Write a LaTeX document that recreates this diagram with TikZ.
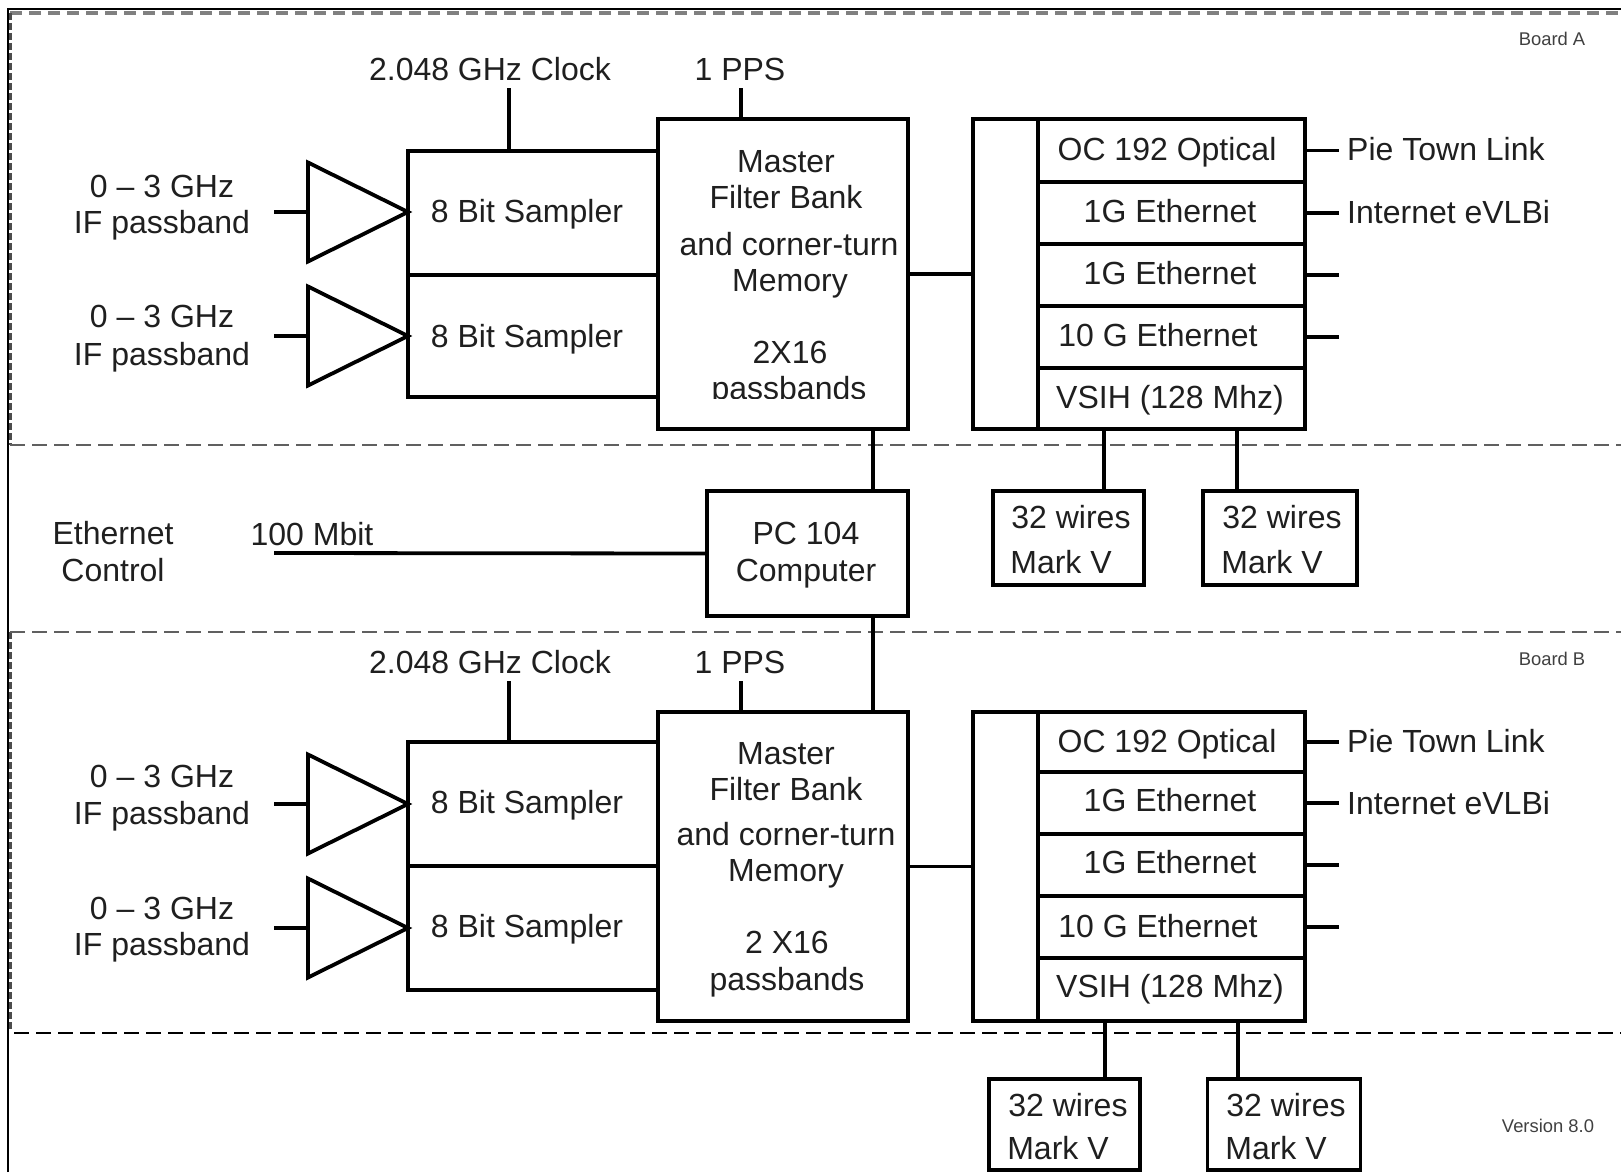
\documentclass[tikz,border=0pt]{standalone}
\usepackage{fontspec}
\setmainfont{Liberation Sans}
\usetikzlibrary{shapes.geometric}
\definecolor{ink}{gray}{0.12}
\tikzset{
  box/.style={draw=black,line width=3.8pt,fill=white,rectangle,inner sep=0pt,outer sep=0pt,line join=miter},
  amp/.style={draw=black,line width=3.8pt,isosceles triangle,isosceles triangle stretches,
    minimum width=99pt,minimum height=100pt,inner sep=0pt,outer sep=0pt,anchor=apex},
  wire/.style={black,line width=3.8pt},
  txt/.style={text=ink,font=\fontsize{32}{38}\selectfont,inner sep=0pt,text height=23pt,text depth=0pt},
  tiny/.style={text=ink!85,font=\fontsize{18.4}{22}\selectfont,inner sep=0pt,text height=13pt,text depth=0pt},
  sep/.style={gray!75!black,line width=2.2pt,dash pattern=on 15pt off 7pt},
  edge/.style={black!70,line width=3pt,dash pattern=on 7pt off 3pt},
}
\begin{document}
\begin{tikzpicture}[x=1pt,y=-1pt]
\useasboundingbox (0,0) rectangle (1621,1172);
% outer frame:
\draw[black,line width=2pt] (8,1172) -- (8,9) -- (1621,9);
\draw[gray,line width=4pt,dash pattern=on 12pt off 7pt] (10,13) -- (1621,13);
\draw[edge] (10,13) -- (10,445);
\draw[edge] (10,632) -- (10,1030);
% board separators:
\coordinate (sepal) at (10,445);
\coordinate (separ) at (1621,445);
\coordinate (sepbl) at (10,632);
\coordinate (sepbr) at (1621,632);
\coordinate (sepcl) at (14,1033);
\coordinate (sepcr) at (1621,1033);
\draw[sep] (sepal) -- (separ);
\draw[sep] (sepbl) -- (sepbr);
\draw[sep,black] (sepcl) -- (sepcr);
% board A, samplers and amplifiers:
\node[box,minimum width=250pt,minimum height=124pt] (sama) at (533,213) {};
\node[box,minimum width=250pt,minimum height=122pt] (samb) at (533,336) {};
\node[amp] (ampa) at (408,212) {};
\node[amp] (ampb) at (408,336) {};
\node[txt] (sama-t) at (527,211) {8 Bit Sampler};
\node[txt] (samb-t) at (527,336) {8 Bit Sampler};
\coordinate (ina) at (274,212);
\coordinate (inb) at (274,336);
\draw[wire] (ina) -- (ampa.lower side);
\draw[wire] (inb) -- (ampb.lower side);
\node[txt] (ifa1) at (162,186) {0 – 3 GHz};
\node[txt] (ifa2) at (162,222) {IF passband};
\node[txt] (ifb1) at (162,316) {0 – 3 GHz};
\node[txt] (ifb2) at (162,354) {IF passband};
% board A, filter bank:
\node[box,minimum width=250pt,minimum height=310pt] (fba) at (783,274) {};
\node[txt] (fba1) at (786,161) {Master};
\node[txt] (fba2) at (786,197) {Filter Bank};
\node[txt] (fba3) at (789,244) {and corner-turn};
\node[txt] (fba4) at (790,280) {Memory};
\node[txt] (fba5) at (790,352) {2X16};
\begin{scope}
\clip (670,370) rectangle (900,398);
\node[txt] (fba6) at (789,388) {passbands};
\end{scope}
\node[txt] (clka) at (490,69) {2.048 GHz Clock};
\node[txt] (ppsa) at (740,69) {1 PPS};
\coordinate (clkae) at (509,88);
\coordinate (ppsae) at (741,88);
\draw[wire] (clkae) -- (clkae |- sama.north);
\draw[wire] (ppsae) -- (ppsae |- fba.north);
% board A, outputs:
\node[box,minimum width=332pt,minimum height=310pt] (ioa) at (1139,274) {};
\draw[wire] (fba.east) -- (ioa.west);
\foreach \nm/\ya/\yb/\tx/\ty/\lbl in {
  oa/119/182/1167/149/OC 192 Optical,
  ob/182/244/1170/211/1G Ethernet,
  oc/244/306/1170/273/1G Ethernet,
  od/306/368/1158/335/10 G Ethernet,
  oe/368/429/1170/397/VSIH (128 Mhz)}{
  \node[box,minimum width=267pt,minimum height={\yb-\ya},anchor=north west] (\nm) at (1038,\ya) {};
  \node[txt] (\nm-t) at (\tx,\ty) {\lbl};
}
\foreach \nm in {oa,ob,oc,od}{
  \coordinate (\nm-e) at (1339,0 |- \nm.east);
  \draw[wire] (\nm.east) -- (\nm-e);
}
\node[txt,anchor=west] (pta) at (1347,149) {Pie Town Link};
\node[txt,anchor=west] (iea) at (1347,212) {Internet eVLBi};
% middle part:
\node[box,minimum width=201pt,minimum height=125pt] (pc) at (807.5,553.5) {};
\node[txt] (pc1) at (806,533) {PC 104};
\node[txt] (pc2) at (806,570) {Computer};
\node[txt] (eth1) at (113,533) {Ethernet};
\node[txt] (eth2) at (113,570) {Control};
\node[txt] (mbit) at (312,534) {100 Mbit};
\coordinate (ethe) at (274,553);
\draw[wire] (ethe) -- (pc.west);
\coordinate (bus) at (873,553);
\draw[wire] (bus |- fba.south) -- (bus |- pc.north);
\node[box,minimum width=151pt,minimum height=94pt] (mka) at (1068.5,538) {};
\node[box,minimum width=154pt,minimum height=94pt] (mkb) at (1280,538) {};
\coordinate (mkax) at (1104,538);
\coordinate (mkbx) at (1237,538);
\draw[wire] (mkax |- oe.south) -- (mkax |- mka.north);
\draw[wire] (mkbx |- oe.south) -- (mkbx |- mkb.north);
\node[txt] (mka1) at (1071,517) {32 wires};
\node[txt] (mka2) at (1061,562) {Mark V};
\node[txt] (mkb1) at (1282,517) {32 wires};
\node[txt] (mkb2) at (1272,562) {Mark V};
% board B, samplers and amplifiers:
\node[box,minimum width=250pt,minimum height=124pt] (samc) at (533,804) {};
\node[box,minimum width=250pt,minimum height=124pt] (samd) at (533,928) {};
\node[amp] (ampc) at (408,804) {};
\node[amp] (ampd) at (408,928) {};
\node[txt] (samc-t) at (527,802) {8 Bit Sampler};
\node[txt] (samd-t) at (527,926) {8 Bit Sampler};
\coordinate (inc) at (274,804);
\coordinate (ind) at (274,928);
\draw[wire] (inc) -- (ampc.lower side);
\draw[wire] (ind) -- (ampd.lower side);
\node[txt] (ifc1) at (162,776) {0 – 3 GHz};
\node[txt] (ifc2) at (162,813) {IF passband};
\node[txt] (ifd1) at (162,908) {0 – 3 GHz};
\node[txt] (ifd2) at (162,944) {IF passband};
% board B, filter bank:
\node[box,minimum width=250pt,minimum height=309pt] (fbb) at (783,866.5) {};
\draw[wire] (bus |- pc.south) -- (bus |- fbb.north);
\node[txt] (fbb1) at (786,753) {Master};
\node[txt] (fbb2) at (786,789) {Filter Bank};
\node[txt] (fbb3) at (786,834) {and corner-turn};
\node[txt] (fbb4) at (786,870) {Memory};
\node[txt] (fbb5) at (787,942) {2 X16};
\node[txt] (fbb6) at (787,979) {passbands};
\node[txt] (clkb) at (490,662) {2.048 GHz Clock};
\node[txt] (ppsb) at (740,662) {1 PPS};
\coordinate (clkbe) at (509,681);
\coordinate (ppsbe) at (741,681);
\draw[wire] (clkbe) -- (clkbe |- samc.north);
\draw[wire] (ppsbe) -- (ppsbe |- fbb.north);
% board B, outputs:
\node[box,minimum width=332pt,minimum height=309pt] (iob) at (1139,866.5) {};
\draw[wire] (fbb.east) -- (iob.west);
\foreach \nm/\ya/\yb/\tx/\ty/\lbl in {
  pa/712/772/1167/741/OC 192 Optical,
  pb/772/834/1170/800/1G Ethernet,
  pc/834/896/1170/862/1G Ethernet,
  pd/896/958/1158/926/10 G Ethernet,
  pe/958/1021/1170/986/VSIH (128 Mhz)}{
  \node[box,minimum width=267pt,minimum height={\yb-\ya},anchor=north west] (r\nm) at (1038,\ya) {};
  \node[txt] (r\nm-t) at (\tx,\ty) {\lbl};
}
\foreach \nm in {pa,pb,pc,pd}{
  \coordinate (r\nm-e) at (1339,0 |- r\nm.east);
  \draw[wire] (r\nm.east) -- (r\nm-e);
}
\node[txt,anchor=west] (ptb) at (1347,741) {Pie Town Link};
\node[txt,anchor=west] (ieb) at (1347,803) {Internet eVLBi};
% bottom boxes:
\node[box,minimum width=151pt,minimum height=91pt] (mkc) at (1064.5,1124.5) {};
\node[box,minimum width=153pt,minimum height=91pt] (mkd) at (1284,1124.5) {};
\coordinate (mkcx) at (1105,1100);
\coordinate (mkdx) at (1238,1100);
\draw[wire] (mkcx |- rpe.south) -- (mkcx |- mkc.north);
\draw[wire] (mkdx |- rpe.south) -- (mkdx |- mkd.north);
\node[txt] (mkc1) at (1068,1105) {32 wires};
\node[txt] (mkc2) at (1058,1148) {Mark V};
\node[txt] (mkd1) at (1286,1105) {32 wires};
\node[txt] (mkd2) at (1276,1148) {Mark V};
% small labels:
\node[tiny] (brda) at (1552,39) {Board A};
\node[tiny] (brdb) at (1552,659) {Board B};
\node[tiny] (vers) at (1548,1126) {Version 8.0};
\end{tikzpicture}
\end{document}
